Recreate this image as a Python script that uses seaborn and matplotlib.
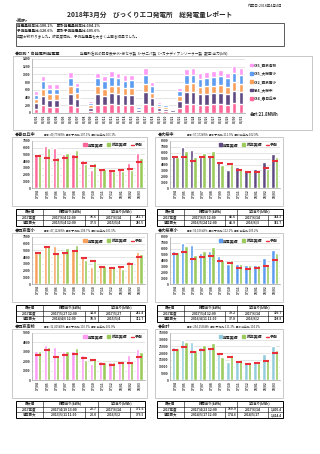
import numpy as np
import pandas as pd
import matplotlib
matplotlib.use("Agg")
import matplotlib.pyplot as plt
import seaborn as sns
from matplotlib.patches import Rectangle, Patch
from matplotlib.lines import Line2D

sns.set_theme(style="white")
plt.rcParams['font.family'] = ['Noto Sans CJK JP', 'DejaVu Sans']

# ---------------- data ----------------
days = [f"03/{d:02d}" for d in range(1, 32)]
s_kasuga = [110,200,150,150,20,220,160,20,60,220,200,225,220,205,205,35,240,170,60,50,35,135,235,240,215,220,225,230,215,255,240]
s_ozakura = [140,250,190,190,25,280,200,25,80,275,250,285,275,255,260,45,300,210,75,65,40,175,300,305,270,280,285,290,275,320,300]
s_nishi_s = [110,180,140,140,15,200,150,15,55,195,180,200,195,185,185,30,215,150,50,45,30,125,215,220,195,200,200,210,195,230,215]
s_ozakura_e = [110,200,150,150,20,210,155,20,60,210,190,215,210,195,195,35,230,165,55,45,35,130,225,230,205,210,215,220,210,245,230]
s_nishi_h = [90,140,110,110,10,150,115,10,45,150,140,155,150,140,145,25,175,115,40,35,20,95,165,175,155,160,155,160,155,180,175]
stack_names = ["C84_春日丘中", "S84_大桜中", "C82_西京南小", "C85_大桜東小", "C85_西京高校"]

months = ["17/04","17/05","17/06","17/07","17/08","17/09","17/10","17/11","17/12","18/01","18/02","18/03"]

kasuga_cur = [5080,6310,6010,5080,5080,4190,2610,2960,2610,2860,3700,5180]
kasuga_prev = [4980,5915,4680,5270,5670,3550,3700,2810,2460,2510,2710,4490]
kasuga_fc = [4780,4440,4190,4440,4680,3700,3350,2610,2460,2710,2810,3940]

ozakura_cur = [5630,6930,6480,5350,5630,4510,3100,3550,3100,3210,4510,5750]
ozakura_prev = [5350,6370,5240,5920,6310,3940,4060,3210,3100,2700,3270,5240]
ozakura_fc = [5240,5350,4680,5240,5350,4340,4060,2990,2700,2700,3380,4620]

nishis_cur = [4680,5620,5620,4780,5030,4040,2560,2660,2420,2660,3450,4730]
nishis_prev = [4780,5770,4630,5420,5770,3550,3450,2660,2460,2170,2910,4440]
nishis_fc = [4630,5520,4440,4630,4930,3940,3450,2560,2320,2560,2910,4040]

ozakurae_cur = [5670,6940,6610,5220,5670,4830,3330,3440,3170,3170,4390,5780]
ozakurae_prev = [5500,6500,5000,5670,6330,4110,4110,3330,3170,3170,3440,5330]
ozakurae_fc = [5110,5500,4280,4560,4830,4000,3560,2780,2500,2780,3000,4170]

nishih_cur = [3070,3680,3500,3070,3070,2610,1710,2070,1890,1890,2610,3250]
nishih_prev = [3070,3500,2710,3070,3430,2140,2360,1890,1890,1890,2070,2960]
nishih_fc = [2710,3140,2500,2710,2790,2360,2140,1710,1610,1790,1820,2430]

total_cur = [24500,29500,28250,24500,24500,20750,13750,15000,13750,14000,19000,25250]
total_prev = [24000,28250,22000,25750,27750,17500,18250,14500,13750,12750,15000,22500]
total_fc = [22500,24500,20750,22500,23250,19000,17000,13250,12000,12750,14500,19750]

tbl_kasuga = [["2017年度","2017/6/4 12:00","36.6","2017/6/14","281.7"],
              ["過去最大","2015/5/4 12:00","37.5","2015/5/4","286.5"]]
tbl_ozakura = [["2017年度","2017/6/5 12:00","45.6","2017/6/14","364.3"],
               ["過去最大","2016/5/24 12:00","45.9","2016/6/3","362.7"]]
tbl_nishis = [["2017年度","2017/5/27 12:00","34.8","2017/5/27","281.4"],
              ["過去最大","2014/4/6 12:00","38.9","2015/5/4","312.7"]]
tbl_ozakurae = [["2017年度","2017/5/4 12:00","39.2","2017/6/14","306.7"],
                ["過去最大","2016/4/11 12:00","37.8","2016/6/2","308.8"]]
tbl_nishih = [["2017年度","2017/4/19 13:00","20.7","2017/6/14","171.6"],
              ["過去最大","2013/5/11 11:00","23.0","2016/5/2","176.5"]]
tbl_total = [["2017年度","2017/4/23 12:00","169.9","2017/6/14","1,405.4"],
             ["過去最大","2014/5/17 12:00","174.6","2014/5/17","1,414.4"]]

# ---------------- style ----------------
C_PINK = "#FF6699"
C_PURPLE = "#5F4A82"
C_ORANGE = "#F9A05C"
C_BLUE = "#5D9CF0"
C_MAG = "#FF9AF5"
C_LBLUE = "#93CDDD"
C_GREEN = "#9BCB5C"
C_RED = "#E8303A"

W, H = 320, 454
fig = plt.figure(figsize=(3.2, 4.54), dpi=100)
fig.patch.set_facecolor("white")

ov = fig.add_axes([0, 0, 1, 1])
ov.set_xlim(0, W); ov.set_ylim(H, 0); ov.axis("off")


def axes_px(x0, y0, x1, y1):
    return fig.add_axes([x0 / W, 1 - y1 / H, (x1 - x0) / W, (y1 - y0) / H])


def box(x0, y0, x1, y1, color="#BFBFBF", lw=0.6):
    ov.add_patch(Rectangle((x0, y0), x1 - x0, y1 - y0, fill=False, ec=color, lw=lw))


def style_ax(ax, ymax, ystep, rot_fs=2.3):
    ax.set_ylim(0, ymax)
    ax.set_yticks(np.arange(0, ymax + 1, ystep))
    ax.yaxis.grid(True, color="#D0D0D0", lw=0.4)
    ax.set_axisbelow(True)
    ax.set_xlabel(""); ax.set_ylabel("")
    for s in ["top", "right"]:
        ax.spines[s].set_visible(False)
    for s in ["left", "bottom"]:
        ax.spines[s].set_color("#A0A0A0"); ax.spines[s].set_linewidth(0.5)
    ax.tick_params(axis="y", labelsize=2.4, length=0, pad=1)
    ax.tick_params(axis="x", labelsize=rot_fs, length=0, pad=1, labelrotation=90)
    for t in ax.get_yticklabels() + ax.get_xticklabels():
        t.set_fontweight("bold")
    ax.set_facecolor("white")


# ---------------- header text ----------------
ov.text(150, 14, "2018年3月分　びっくりエコ発電所　総発電量レポート", ha="center", va="center",
        fontsize=4.8, fontweight="bold")
ov.text(283, 6, "作成日:2018年4月4日", ha="right", va="center", fontsize=2.6)
ov.text(16, 20.5, "<総評>", ha="left", va="center", fontsize=2.8, fontweight="bold")
box(16, 23, 284, 46, color="#404040", lw=0.6)
ov.text(17, 26, "発電量前年比:100.2%　累計発電量前年比:104.2%", ha="left", va="center", fontsize=2.6, fontweight="bold")
ov.text(17, 31, "予測発電量比:120.6%　累計予測発電量比:105.6%", ha="left", va="center", fontsize=2.6, fontweight="bold")
ov.text(17, 37, "年度が終わりました。昨年度同比、予測発電量も大きく上回る結果でした。", ha="left", va="center", fontsize=2.6)

ov.text(15, 54, "◆日別・各発電所発電量", ha="left", va="center", fontsize=3.0, fontweight="bold")
ov.text(80, 53.5, "発電所名前の記号表示:K=京セラ製  S=サニパ製  C=カナディアンソーラー製   数字:出力(kW)",
        ha="left", va="center", fontsize=2.6)
box(13, 56, 312, 130)

# ---------------- top stacked chart ----------------
ax0 = axes_px(32, 59, 245, 113)
series = [s_kasuga, s_ozakura, s_nishi_s, s_ozakura_e, s_nishi_h]
colors = [C_PINK, C_PURPLE, C_ORANGE, C_BLUE, C_MAG]
cum = np.cumsum(np.array(series), axis=0)
for i in range(4, -1, -1):
    sns.barplot(x=days, y=cum[i], color=colors[i], width=0.68, saturation=1,
                errorbar=None, ax=ax0)
style_ax(ax0, 1400, 200, rot_fs=2.2)
ax0.set_xlim(-0.6, 30.6)
handles = [Patch(color=colors[i], label=stack_names[i]) for i in range(4, -1, -1)]
leg = fig.legend(handles=handles, loc="upper left", bbox_to_anchor=(247 / W, 1 - 60 / H),
                 fontsize=2.6, frameon=False, handlelength=0.7, handleheight=0.7,
                 handletextpad=0.4, labelspacing=1.2)
for t in leg.get_texts():
    t.set_fontweight("bold")
ov.text(250, 115, "合計:21.8MWh", ha="left", va="center", fontsize=3.0, fontweight="bold")

# ---------------- monthly panels ----------------
def panel(col, row, name, stats, cur, prev, fc, color, ymax, ystep, tbl):
    dy = row * 96
    if col == 0:
        bx0, bx1, px0, px1 = 12, 147, 32, 145
        tcols = [16, 43, 85, 98, 130, 145]
        hx = 15
    else:
        bx0, bx1, px0, px1 = 155, 283, 170, 280
        tcols = [157, 183.5, 224.5, 237, 268, 283]
        hx = 158
    # header
    ov.text(hx, 134.5 + dy, "◆" + name, ha="left", va="center", fontsize=3.0, fontweight="bold")
    ov.text(hx + 29, 134.5 + dy, stats, ha="left", va="center", fontsize=2.0)
    box(bx0, 137 + dy, bx1, 206 + dy)
    ax = axes_px(px0, 141 + dy, px1, 188 + dy)
    df = pd.DataFrame({"month": months * 2, "val": cur + prev,
                       "series": ["発電実績"] * 12 + ["昨年実績"] * 12})
    sns.barplot(data=df, x="month", y="val", hue="series", palette=[color, C_GREEN],
                width=0.7, saturation=1, errorbar=None, ax=ax, legend=False)
    sns.scatterplot(x=np.arange(12), y=fc, marker="_", s=18, linewidth=1.5,
                    color=C_RED, ax=ax, legend=False, zorder=5)
    style_ax(ax, ymax, ystep)
    ax.set_xlim(-0.6, 11.6)
    hs = [Patch(color=color, label="発電実績"), Patch(color=C_GREEN, label="昨年実績"),
          Line2D([0], [0], color=C_RED, lw=1.0, label="予測")]
    lg = ax.legend(handles=hs, loc="upper right", ncol=3, fontsize=2.8, frameon=False,
                   handlelength=0.8, handleheight=0.8, handletextpad=0.3,
                   columnspacing=1.0, borderaxespad=0.15)
    for t in lg.get_texts():
        t.set_fontweight("bold")
    # table
    ty = [209 + dy, 214.5 + dy, 220 + dy, 225.5 + dy]
    ov.add_patch(Rectangle((tcols[0], ty[0]), tcols[-1] - tcols[0], ty[-1] - ty[0],
                           fill=False, ec="black", lw=0.7))
    for y in ty[1:-1]:
        ov.plot([tcols[0], tcols[-1]], [y, y], color="black", lw=0.4)
    ov.plot([tcols[1]] * 2, [ty[0], ty[-1]], color="black", lw=0.4)
    ov.plot([tcols[3]] * 2, [ty[0], ty[-1]], color="black", lw=0.4)
    ov.plot([tcols[2]] * 2, [ty[1], ty[-1]], color="black", lw=0.4)
    ov.plot([tcols[4]] * 2, [ty[1], ty[-1]], color="black", lw=0.4)
    fs = 2.4
    ym = [(ty[i] + ty[i + 1]) / 2 for i in range(3)]
    ov.text((tcols[0] + tcols[1]) / 2, ym[0], "最大値", ha="center", va="center", fontsize=fs, fontweight="bold")
    ov.text((tcols[1] + tcols[3]) / 2, ym[0], "時間当り(kWh)", ha="center", va="center", fontsize=fs, fontweight="bold")
    ov.text((tcols[3] + tcols[5]) / 2, ym[0], "1日当り(kWh)", ha="center", va="center", fontsize=fs, fontweight="bold")
    for r, rowv in enumerate(tbl):
        yy = ym[r + 1]
        ov.text((tcols[0] + tcols[1]) / 2, yy, rowv[0], ha="center", va="center", fontsize=fs, fontweight="bold")
        ov.text((tcols[1] + tcols[2]) / 2, yy, rowv[1], ha="center", va="center", fontsize=fs, fontweight="bold")
        ov.text(tcols[3] - 0.8, yy, rowv[2], ha="right", va="center", fontsize=fs, fontweight="bold")
        ov.text((tcols[3] + tcols[4]) / 2, yy, rowv[3], ha="center", va="center", fontsize=fs, fontweight="bold")
        ov.text(tcols[5] - 0.8, yy, rowv[4], ha="right", va="center", fontsize=2.2, fontweight="bold")


panel(0, 0, "春日丘中", "累計:49,779kWh  累計予測比:107.1%  累計前年比:103.1%",
      kasuga_cur, kasuga_prev, kasuga_fc, C_PINK, 7000, 1000, tbl_kasuga)
panel(1, 0, "大桜中", "累計:57,172kWh  累計予測比:111.5%  累計前年比:102.8%",
      ozakura_cur, ozakura_prev, ozakura_fc, C_PURPLE, 8000, 1000, tbl_ozakura)
panel(0, 1, "西京南小", "累計:47,122kWh  累計予測比:104.7%  累計前年比:101.5%",
      nishis_cur, nishis_prev, nishis_fc, C_ORANGE, 7000, 1000, tbl_nishis)
panel(1, 1, "大桜東小", "累計:56,156kWh  累計予測比:112.1%  累計前年比:105.2%",
      ozakurae_cur, ozakurae_prev, ozakurae_fc, C_BLUE, 8000, 1000, tbl_ozakurae)
panel(0, 2, "西京高校", "累計:32,415kWh  累計予測比:110.3%  累計前年比:102.0%",
      nishih_cur, nishih_prev, nishih_fc, C_MAG, 5000, 1000, tbl_nishih)
panel(1, 2, "合計", "累計:254,153kWh  累計予測比:111.3%  累計前年比:104.2%",
      total_cur, total_prev, total_fc, C_LBLUE, 35000, 5000, tbl_total)

fig.savefig("out.png", dpi=100, facecolor="white")
